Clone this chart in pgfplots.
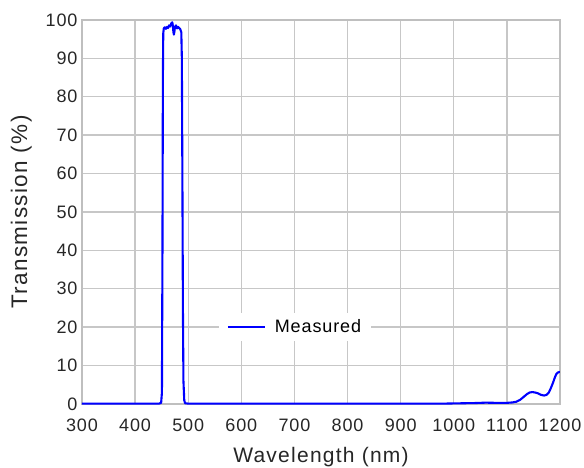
\documentclass[border=0pt]{standalone}
\usepackage{fontspec}
\setmainfont{Liberation Sans}
\usepackage{pgfplots}
\pgfplotsset{compat=1.18}
\begin{document}
\begin{tikzpicture}
\begin{axis}[
  at={(0,0)}, anchor=south west,
  scale only axis, width=478bp, height=384bp,
  xmin=300, xmax=1200, ymin=0, ymax=100,
  xtick={300,400,...,1200}, ytick={0,10,...,100},
  grid=major,
  major grid style={draw=black!22, line width=1.4bp},
  axis line style={draw=black!25, line width=1.4bp},
  major tick length=0pt,
  /pgf/number format/assume math mode=true,
  /pgf/number format/1000 sep={},
  tick label style={font=\fontsize{18bp}{20bp}\selectfont\addfontfeature{LetterSpace=5}, text=black!85},
  yticklabel style={xshift=-1bp},
  xticklabel style={yshift=-11bp},
  xlabel={Wavelength (nm)},
  ylabel={Transmission (\%)},
  xlabel style={font=\fontsize{21bp}{24bp}\selectfont\addfontfeature{LetterSpace=6}, text=black!85, yshift=-9bp},
  ylabel style={font=\fontsize{22.5bp}{25bp}\selectfont\addfontfeature{LetterSpace=6}, text=black!85, yshift=7bp},
  legend style={at={(axis cs:701,20)}, anchor=center, draw=none, fill=white,
    font=\fontsize{18bp}{20bp}\selectfont\addfontfeature{LetterSpace=5}, inner xsep=8bp, inner ysep=5bp,
    legend cell align=left},
  legend image code/.code={\draw[#1, line width=2bp] (0bp,0bp) -- (37bp,0bp);},
]
\addplot[blue, line width=2.1bp, line join=round] coordinates {
(300,0.1)(400,0.1)(445,0.1)(449,0.3)(450.5,3)(451.5,40)(452.3,85)(453,96.5)(454,97.8)
(456,98.1)(458,97.7)(460,98.2)(462,97.9)(464,98.6)(466,98.3)(468,99.1)(470,99.4)
(471,98.6)(472,97.0)(473,96.2)(474,97.0)(475,98.2)(477,98.6)(479,97.8)(481,98.2)
(483,97.9)(485,97.6)(487,96.8)(488,90)(489,60)(490,25)(491,6)(492.5,1)(494,0.2)
(500,0.1)(600,0.1)(700,0.1)(800,0.1)(900,0.1)(980,0.1)(1000,0.15)(1020,0.2)
(1040,0.25)(1060,0.35)(1080,0.3)(1100,0.3)(1110,0.4)(1118,0.6)(1125,1.1)(1132,1.9)
(1138,2.6)(1143,3.0)(1148,3.1)(1153,3.0)(1158,2.8)(1164,2.4)(1170,2.2)(1175,2.4)
(1179,3.0)(1183,4.2)(1187,5.6)(1190,6.8)(1193,7.8)(1196,8.2)(1200,8.4)
};
\addlegendentry{\hspace{7bp}Measured}
\end{axis}
\pgfresetboundingbox
\path (-82bp,-64bp) rectangle (502bp,404bp);
\end{tikzpicture}
\end{document}
